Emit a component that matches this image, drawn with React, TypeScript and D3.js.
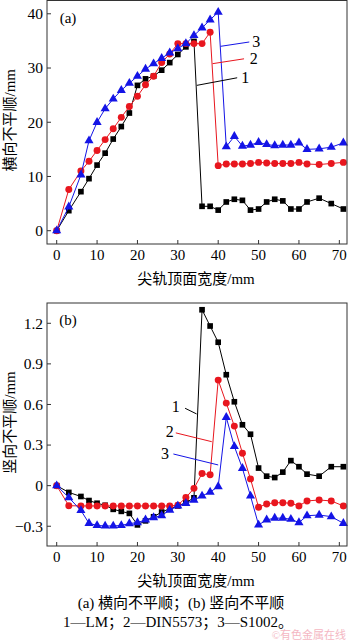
import React from 'react';
import { scaleLinear, line, symbol, symbolSquare, symbolCircle, symbolTriangle } from 'd3';

// 尖轨顶面宽度 / mm
const widths = [0, 3, 6, 8, 10, 12, 14, 16, 18, 20, 22, 24, 26, 28, 30, 32, 34, 36, 38, 40, 42, 44, 46, 48, 50, 52, 54, 56, 58, 60, 62, 65, 68, 71];

// (a) 横向不平顺 / mm
const latLM = [0, 3.7, 7.2, 9.6, 12.1, 14.3, 16.9, 19.2, 21.7, 26.8, 28.0, 28.5, 29.6, 31.0, 32.5, 33.9, 34.9, 4.5, 4.5, 3.8, 5.3, 5.8, 5.6, 3.8, 4.0, 5.3, 5.8, 5.5, 4.0, 4.0, 5.3, 6.0, 5.0, 4.0];
const latDIN = [0, 7.6, 11.0, 12.8, 14.8, 16.8, 18.8, 20.9, 22.9, 24.8, 26.9, 28.5, 31.0, 32.6, 34.5, 34.5, 34.5, 34.5, 36.6, 12.0, 12.3, 12.3, 12.3, 12.4, 12.6, 12.5, 12.4, 12.4, 12.4, 12.6, 12.3, 12.2, 12.4, 12.6];
const latS1002 = [0, 4.4, 10.3, 16.6, 20.0, 22.5, 24.3, 25.9, 27.2, 28.5, 29.8, 30.8, 31.8, 32.8, 33.6, 34.5, 36.0, 37.4, 38.9, 40.3, 15.5, 17.4, 15.6, 15.8, 16.3, 15.9, 15.7, 15.8, 15.8, 16.2, 15.0, 15.1, 15.4, 16.2];

// (b) 竖向不平顺 / mm
const verLM = [0, -0.05, -0.08, -0.11, -0.13, -0.145, -0.175, -0.19, -0.205, -0.29, -0.26, -0.23, -0.195, -0.17, -0.15, -0.125, -0.09, 1.30, 1.18, 1.06, 0.82, 0.62, 0.45, 0.38, 0.13, 0.07, 0.06, 0.10, 0.185, 0.14, 0.085, 0.07, 0.14, 0.14];
const verDIN = [0, -0.148, -0.15, -0.15, -0.15, -0.15, -0.15, -0.15, -0.15, -0.15, -0.15, -0.15, -0.15, -0.15, -0.145, -0.088, -0.02, 0.09, 0.08, 0.78, 0.61, 0.44, 0.24, 0.05, -0.16, -0.135, -0.126, -0.126, -0.13, -0.15, -0.113, -0.106, -0.113, -0.15];
const verS1002 = [0, -0.088, -0.183, -0.278, -0.294, -0.298, -0.298, -0.294, -0.28, -0.273, -0.253, -0.236, -0.221, -0.18, -0.15, -0.13, -0.106, -0.076, -0.047, -0.007, 0.505, 0.29, 0.128, -0.076, -0.29, -0.253, -0.24, -0.24, -0.248, -0.273, -0.222, -0.217, -0.229, -0.278];

const xTicks = [0, 10, 20, 30, 40, 50, 60, 70];
const latTicks = [0, 10, 20, 30, 40];
const verTicks = [-0.3, 0, 0.3, 0.6, 0.9, 1.2];
const verTickLabels = ['\u22120.3', '0', '0.3', '0.6', '0.9', '1.2'];

// leader lines: [label, label x, label y, from x, from y, to x, to y] in data units
const latNotes: [string, number, number, number, number, number, number][] = [
  ['3', 49.4, 35.0, 40.6, 34.0, 47.7, 34.8],
  ['2', 48.8, 31.7, 38.6, 30.8, 46.4, 31.7],
  ['1', 46.7, 28.3, 34.7, 26.8, 44.7, 28.2],
];
const verNotes: [string, number, number, number, number, number, number][] = [
  ['1', 29.5, 0.584, 31.8, 0.572, 34.65, 0.53],
  ['2', 28.0, 0.40, 29.5, 0.39, 38.4, 0.325],
  ['3', 26.8, 0.24, 28.9, 0.234, 40.0, 0.153],
];

const RED = '#e8161e';
const BLUE = '#1414e6';
const FONT = "'Liberation Serif', 'Times New Roman', 'Noto Sans CJK SC', serif";

const series = [
  { color: '#000', shape: symbolSquare, size: 32 },
  { color: RED, shape: symbolCircle, size: 38 },
  { color: BLUE, shape: symbolTriangle, size: 36 },
];

const W = 350;
const H = 642;
const left = 47;
const right = 347;

const xScale = scaleLinear().domain([-2.4, 71.9]).range([left, right]);

type PanelProps = {
  values: number[][];
  yDomain: [number, number];
  top: number;
  bottom: number;
  ticks: number[];
  tickLabels: string[];
  tag: string;
  yTitle: string;
  notes: [string, number, number, number, number, number, number][];
};

const Panel = ({ values, yDomain, top, bottom, ticks, tickLabels, tag, yTitle, notes }: PanelProps) => {
  const y = scaleLinear().domain(yDomain).range([bottom, top]);
  const path = line<number>().x((_, i) => xScale(widths[i])).y(d => y(d));
  return (
    <g>
      {values.map((vals, s) => (
        <g key={s}>
          <path d={path(vals) || ''} fill="none" stroke={series[s].color} strokeWidth={1} />
          {vals.map((v, i) => (
            <path key={i} transform={`translate(${xScale(widths[i])},${y(v)})`}
              d={symbol(series[s].shape, series[s].size)() || ''} fill={series[s].color} />
          ))}
        </g>
      ))}
      {notes.map(([t, lx, ly, x1, y1, x2, y2], i) => (
        <g key={i}>
          <line x1={xScale(x1)} y1={y(y1)} x2={xScale(x2)} y2={y(y2)}
            stroke={series[+t - 1].color} strokeWidth={1} />
          <text x={xScale(lx)} y={y(ly)} dy="0.35em" textAnchor="middle" fontSize={16}>{t}</text>
        </g>
      ))}
      <rect x={left} y={top} width={right - left} height={bottom - top} fill="none" stroke="#333" strokeWidth={1} />
      {xTicks.map(t => (
        <g key={t}>
          <line x1={xScale(t)} x2={xScale(t)} y1={bottom} y2={bottom - 4} stroke="#333" />
          <text x={xScale(t)} y={bottom + 11} dy="0.35em" textAnchor="middle" fontSize={15}>{t}</text>
        </g>
      ))}
      {ticks.map((t, i) => (
        <g key={t}>
          <line x1={left} x2={left + 4} y1={y(t)} y2={y(t)} stroke="#333" />
          <text x={left - 4} y={y(t)} dy="0.35em" textAnchor="end" fontSize={15.5}>{tickLabels[i]}</text>
        </g>
      ))}
      <text x={68} y={top + 17} dy="0.35em" textAnchor="middle" fontSize={15}>{tag}</text>
      <text transform={`translate(10,${(top + bottom) / 2 - 2}) rotate(-90)`} dy="0.35em"
        textAnchor="middle" fontSize={15}>{yTitle}</text>
      <text x={196} y={bottom + 35} dy="0.35em" textAnchor="middle" fontSize={15}>尖轨顶面宽度/mm</text>
    </g>
  );
};

export default function App() {
  return (
    <svg width={W} height={H} style={{ position: 'absolute', left: 0, top: 0, background: '#fff' }}
      fontFamily={FONT}>
      <Panel values={[latLM, latDIN, latS1002]} yDomain={[-2.45, 42.45]} top={0.5} bottom={244}
        ticks={latTicks} tickLabels={latTicks.map(String)} tag="(a)" yTitle="横向不平顺/mm" notes={latNotes} />
      <Panel values={[verLM, verDIN, verS1002]} yDomain={[-0.446, 1.35]} top={303} bottom={546}
        ticks={verTicks} tickLabels={verTickLabels} tag="(b)" yTitle="竖向不平顺/mm" notes={verNotes} />
      <text x={181} y={603} dy="0.35em" textAnchor="middle" fontSize={15}>(a) 横向不平顺；(b) 竖向不平顺</text>
      <text x={178} y={622} dy="0.35em" textAnchor="middle" fontSize={15}>1—LM；2—DIN5573；3—S1002。</text>
      <text x={346} y={635} dy="0.35em" textAnchor="end" fontSize={11} fill="#f2a6b4" opacity={0.8}>©有色金属在线</text>
    </svg>
  );
}
